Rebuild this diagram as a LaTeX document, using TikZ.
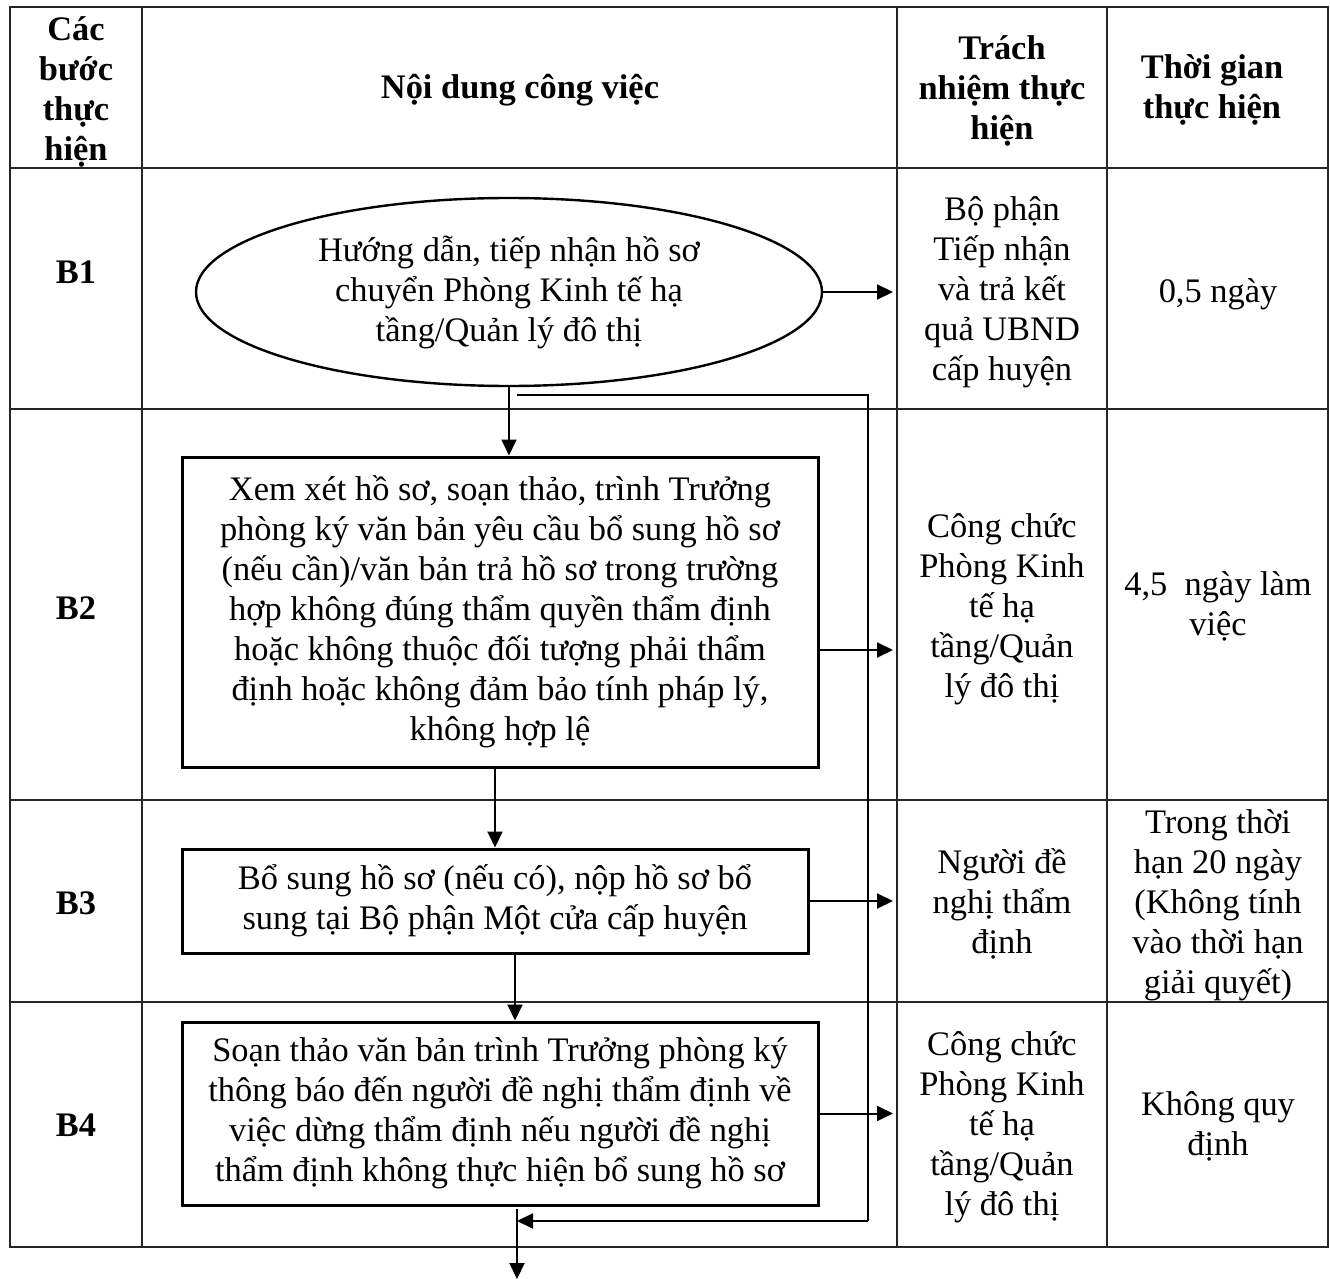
\documentclass[tikz,border=0pt]{standalone}
\usepackage{fontspec}
\setmainfont{Liberation Serif}
\usetikzlibrary{shapes.geometric,arrows.meta}
\begin{document}
\begin{tikzpicture}[x=0.5pt,y=-0.5pt,
  every node/.style={font=\fontsize{17.2}{20}\selectfont},
  cell/.style={align=center, inner sep=0pt},
  hdr/.style={align=center, inner sep=0pt, font=\fontsize{17.2}{20}\selectfont\bfseries},
  grid/.style={line width=0.8pt, draw=black!85},
  box/.style={draw, line width=1.5pt, align=center, inner sep=0pt},
  arr/.style={-{Triangle[length=8pt,width=7.5pt]}, line width=1pt},
  ln/.style={line width=1pt}]
\useasboundingbox (0,0) rectangle (1330,1279);
% table
\draw[grid] (10,7) rectangle (1328,1247);
\draw[grid] (142,7) -- (142,1247);
\draw[grid] (897,7) -- (897,1247);
\draw[grid] (1107,7) -- (1107,1247);
\draw[grid] (10,168) -- (1328,168);
\draw[grid] (10,409) -- (1328,409);
\draw[grid] (10,800) -- (1328,800);
\draw[grid] (10,1002) -- (1328,1002);
% header
\node[hdr] (h1) at (76,92) {Các\\bước\\thực\\hiện};
\node[hdr] (h2) at (520,90) {Nội dung công việc};
\node[hdr] (h3) at (1002,91) {Trách\\nhiệm thực\\hiện};
\node[hdr] (h4) at (1212,90) {Thời gian\\thực hiện};
% step labels
\node[hdr] (s1) at (76,272) {B1};
\node[hdr] (s2) at (76,608) {B2};
\node[hdr] (s3) at (76,903) {B3};
\node[hdr] (s4) at (76,1125) {B4};
% responsibility
\node[cell] (r1) at (1002,292) {Bộ phận\\Tiếp nhận\\và trả kết\\quả UBND\\cấp huyện};
\node[cell] (r2) at (1002,609) {Công chức\\Phòng Kinh\\tế hạ\\tầng/Quản\\lý đô thị};
\node[cell] (r3) at (1002,904) {Người đề\\nghị thẩm\\định};
\node[cell] (r4) at (1002,1127) {Công chức\\Phòng Kinh\\tế hạ\\tầng/Quản\\lý đô thị};
% time
\node[cell] (t1) at (1218,294) {0,5 ngày};
\node[cell] (t2) at (1218,606) {4,5\ \ ngày làm\\việc};
\node[cell] (t3) at (1218,905) {Trong thời\\hạn 20 ngày\\(Không tính\\vào thời hạn\\giải quyết)};
\node[cell] (t4) at (1218,1126) {Không quy\\định};
% flow shapes
\node[ellipse, draw, line width=1.2pt, minimum width=313pt, minimum height=94pt, align=center, inner sep=0pt] (e1) at (509,292) {Hướng dẫn, tiếp nhận hồ sơ\\chuyển Phòng Kinh tế hạ\\tầng/Quản lý đô thị};
\node[box, minimum width=318pt, minimum height=155pt] (b2) at (500,612) {Xem xét hồ sơ, soạn thảo, trình Trưởng\\phòng ký văn bản yêu cầu bổ sung hồ sơ\\(nếu cần)/văn bản trả hồ sơ trong trường\\hợp không đúng thẩm quyền thẩm định\\hoặc không thuộc đối tượng phải thẩm\\định hoặc không đảm bảo tính pháp lý,\\không hợp lệ};
\node[box, minimum width=313pt, minimum height=52pt] (b3) at (495,901) {Bổ sung hồ sơ (nếu có), nộp hồ sơ bổ\\sung tại Bộ phận Một cửa cấp huyện};
\node[box, minimum width=318pt, minimum height=91.5pt] (b4) at (500,1113.5) {Soạn thảo văn bản trình Trưởng phòng ký\\thông báo đến người đề nghị thẩm định về\\việc dừng thẩm định nếu người đề nghị\\thẩm định không thực hiện bổ sung hồ sơ};
% coordinates
\coordinate (fa) at (517,395);
\coordinate (fb) at (868,395);
\coordinate (fc) at (868,1221);
\coordinate (fd) at (517,1221);
\coordinate (oa) at (517,1209);
\coordinate (ob) at (517,1279);
\coordinate (c3) at (893,0);
% vertical arrows
\draw[arr] (e1.south) -- (e1.south |- b2.north);
\draw[arr] (b3.north |- b2.south) -- (b3.north);
\draw[arr] ([xshift=10pt]b3.south) -- ([xshift=10pt]b3.south |- b4.north);
% feedback loop
\draw[ln] (fa) -- (fb) -- (fc);
\draw[arr] (fc) -- (fd);
\draw[arr] (oa) -- (ob);
% horizontal arrows
\draw[arr] (e1.east) -- (e1.east -| c3);
\draw[arr] ([yshift=-19pt]b2.east) -- ([yshift=-19pt]b2.east -| c3);
\draw[arr] (b3.east) -- (b3.east -| c3);
\draw[arr] (b4.east) -- (b4.east -| c3);
\end{tikzpicture}
\end{document}
